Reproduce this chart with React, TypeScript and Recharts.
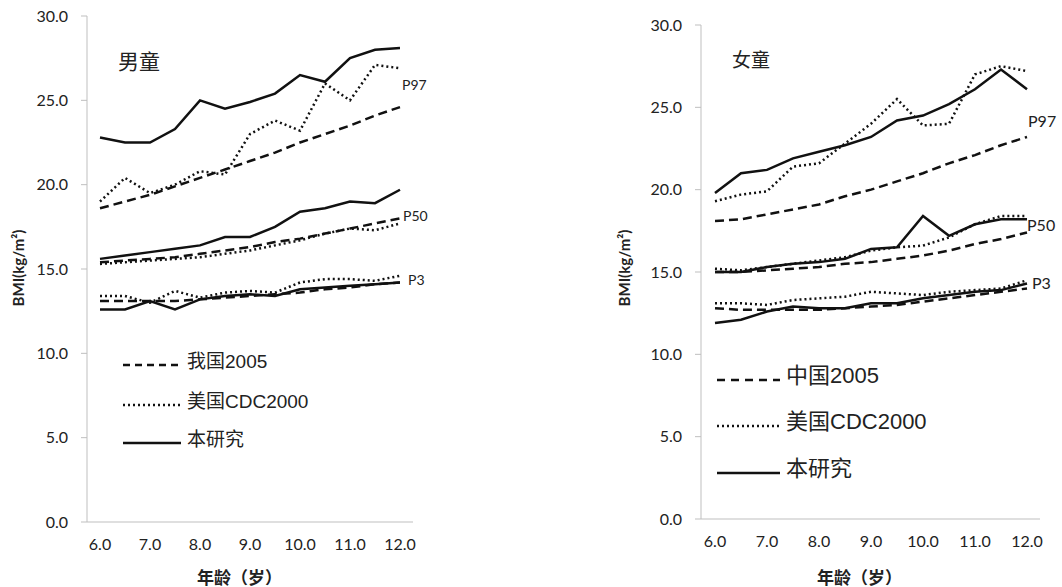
import { LineChart, Line, XAxis, YAxis } from 'recharts'

const AGES = ['6.0', '6.5', '7.0', '7.5', '8.0', '8.5', '9.0', '9.5', '10.0', '10.5', '11.0', '11.5', '12.0']
const Y_TICKS = [0, 5, 10, 15, 20, 25, 30]

// 男童
const BOYS_P97_CN = [18.6, 19.0, 19.4, 19.9, 20.4, 20.9, 21.4, 21.9, 22.5, 23.0, 23.5, 24.1, 24.6]
const BOYS_P97_US = [19.0, 20.4, 19.5, 20.0, 20.8, 20.6, 23.0, 23.8, 23.2, 26.0, 25.0, 27.1, 26.9]
const BOYS_P97_STUDY = [22.8, 22.5, 22.5, 23.3, 25.0, 24.5, 24.9, 25.4, 26.5, 26.1, 27.5, 28.0, 28.1]
const BOYS_P50_CN = [15.4, 15.5, 15.6, 15.7, 15.9, 16.1, 16.3, 16.6, 16.8, 17.1, 17.4, 17.7, 18.0]
const BOYS_P50_US = [15.3, 15.4, 15.5, 15.6, 15.7, 15.9, 16.1, 16.4, 16.7, 17.1, 17.4, 17.3, 17.7]
const BOYS_P50_STUDY = [15.6, 15.8, 16.0, 16.2, 16.4, 16.9, 16.9, 17.5, 18.4, 18.6, 19.0, 18.9, 19.7]
const BOYS_P3_CN = [13.1, 13.1, 13.1, 13.1, 13.2, 13.3, 13.4, 13.5, 13.6, 13.8, 13.9, 14.1, 14.2]
const BOYS_P3_US = [13.4, 13.4, 13.0, 13.7, 13.3, 13.6, 13.7, 13.6, 14.2, 14.4, 14.4, 14.3, 14.6]
const BOYS_P3_STUDY = [12.6, 12.6, 13.1, 12.6, 13.2, 13.4, 13.5, 13.4, 13.8, 13.9, 14.0, 14.1, 14.2]

// 女童
const GIRLS_P97_CN = [18.1, 18.2, 18.5, 18.8, 19.1, 19.6, 20.0, 20.5, 21.0, 21.6, 22.1, 22.7, 23.2]
const GIRLS_P97_US = [19.3, 19.7, 19.9, 21.4, 21.6, 22.8, 24.0, 25.5, 23.9, 24.0, 27.0, 27.5, 27.2]
const GIRLS_P97_STUDY = [19.8, 21.0, 21.2, 21.9, 22.3, 22.7, 23.2, 24.2, 24.5, 25.2, 26.1, 27.3, 26.1]
const GIRLS_P50_CN = [15.0, 15.0, 15.1, 15.2, 15.3, 15.5, 15.6, 15.8, 16.0, 16.3, 16.7, 17.0, 17.4]
const GIRLS_P50_US = [15.2, 15.1, 15.3, 15.5, 15.7, 15.9, 16.3, 16.5, 16.6, 17.1, 17.9, 18.4, 18.4]
const GIRLS_P50_STUDY = [15.0, 15.0, 15.3, 15.5, 15.6, 15.8, 16.4, 16.5, 18.4, 17.2, 17.9, 18.2, 18.2]
const GIRLS_P3_CN = [12.8, 12.7, 12.7, 12.7, 12.7, 12.8, 12.9, 13.0, 13.2, 13.4, 13.6, 13.8, 14.0]
const GIRLS_P3_US = [13.1, 13.1, 13.0, 13.3, 13.4, 13.5, 13.8, 13.7, 13.6, 13.8, 13.9, 14.0, 14.5]
const GIRLS_P3_STUDY = [11.9, 12.1, 12.6, 12.9, 12.8, 12.8, 13.1, 13.1, 13.4, 13.6, 13.8, 13.9, 14.3]

const DASH = '9 5'
const DOT = '2 3'
const NUM_FONT = 'Lato, "Open Sans", sans-serif'
const CJK_FONT = '"Liberation Sans", "Noto Sans CJK SC", sans-serif'

const SERIES = [
  { key: 'p97cn', dash: DASH },
  { key: 'p97us', dash: DOT },
  { key: 'p97st', dash: undefined },
  { key: 'p50cn', dash: DASH },
  { key: 'p50us', dash: DOT },
  { key: 'p50st', dash: undefined },
  { key: 'p3cn', dash: DASH },
  { key: 'p3us', dash: DOT },
  { key: 'p3st', dash: undefined },
]

function buildRows(cols: number[][]) {
  return AGES.map((age, i) => {
    const row: Record<string, number | string> = { age }
    SERIES.forEach((s, j) => {
      row[s.key] = cols[j][i]
    })
    return row
  })
}

const boysRows = buildRows([
  BOYS_P97_CN, BOYS_P97_US, BOYS_P97_STUDY,
  BOYS_P50_CN, BOYS_P50_US, BOYS_P50_STUDY,
  BOYS_P3_CN, BOYS_P3_US, BOYS_P3_STUDY,
])
const girlsRows = buildRows([
  GIRLS_P97_CN, GIRLS_P97_US, GIRLS_P97_STUDY,
  GIRLS_P50_CN, GIRLS_P50_US, GIRLS_P50_STUDY,
  GIRLS_P3_CN, GIRLS_P3_US, GIRLS_P3_STUDY,
])

interface PanelProps {
  rows: Record<string, number | string>[]
  left: number
  width: number
  top: number
  axisW: number
  xAxisH: number
  right: number
  pad: { left: number; right: number }
}

function Panel({ rows, left, width, top, axisW, xAxisH, right, pad }: PanelProps) {
  return (
    <div style={{ position: 'absolute', left, top: 0 }}>
      <LineChart width={width} height={587} data={rows} margin={{ top, right, left: 0, bottom: 0 }}>
        <XAxis
          dataKey="age"
          interval={1}
          padding={pad}
          height={xAxisH}
          stroke="#bfbfbf"
          tickLine={false}
          tickSize={0}
          tickMargin={17}
          tick={{ fill: '#222', fontSize: 16, fontFamily: NUM_FONT }}
        />
        <YAxis
          domain={[0, 30]}
          ticks={Y_TICKS}
          width={axisW}
          stroke="#bfbfbf"
          tickSize={6}
          tickMargin={13}
          tickFormatter={(v: number) => v.toFixed(1)}
          tick={{ fill: '#222', fontSize: 16, fontFamily: NUM_FONT }}
        />
        {SERIES.map((s) => (
          <Line
            key={s.key}
            dataKey={s.key}
            type="linear"
            stroke="#111"
            strokeWidth={2.5}
            strokeDasharray={s.dash}
            dot={false}
            activeDot={false}
            isAnimationActive={false}
          />
        ))}
      </LineChart>
    </div>
  )
}

function Txt({ x, y, children, size, bold, font, rotate }: {
  x: number; y: number; children: React.ReactNode; size: number; bold?: boolean; font?: string; rotate?: boolean
}) {
  return (
    <div
      style={{
        position: 'absolute',
        left: x,
        top: y,
        fontSize: size,
        fontWeight: bold ? 700 : 400,
        fontFamily: font ?? CJK_FONT,
        color: '#222',
        whiteSpace: 'nowrap',
        lineHeight: 1,
        transform: rotate ? 'translate(-50%, -50%) rotate(-90deg)' : 'translate(0, -50%)',
      }}
    >
      {children}
    </div>
  )
}

function LegendItem({ x, y, dash, label, size, lineW }: {
  x: number; y: number; dash?: string; label: string; size: number; lineW: number
}) {
  return (
    <>
      <svg style={{ position: 'absolute', left: x, top: y - 4 }} width={lineW} height={8}>
        <line x1={0} y1={4} x2={lineW} y2={4} stroke="#111" strokeWidth={2.5} strokeDasharray={dash} />
      </svg>
      <Txt x={x + lineW + 6} y={y - 4} size={size}>{label}</Txt>
    </>
  )
}

export default function App() {
  return (
    <div style={{ position: 'absolute', left: 0, top: 0, width: 1062, height: 587, background: '#fff', overflow: 'hidden' }}>
      <Panel rows={boysRows} left={0} width={430} top={16} axisW={87} xAxisH={65} right={17} pad={{ left: 13, right: 13 }} />
      <Panel rows={girlsRows} left={600} width={462} top={25} axisW={101} xAxisH={68} right={22} pad={{ left: 14, right: 13 }} />

      <Txt x={18} y={268} size={15} bold font={NUM_FONT} rotate>BMI(kg/m²)</Txt>
      <Txt x={624} y={268} size={15} bold font={NUM_FONT} rotate>BMI(kg/m²)</Txt>
      <Txt x={197} y={578} size={17} bold>年龄（岁）</Txt>
      <Txt x={817} y={578} size={17} bold>年龄（岁）</Txt>

      <Txt x={118} y={61} size={21}>男童</Txt>
      <Txt x={732} y={60} size={19}>女童</Txt>

      <Txt x={402} y={85} size={14} font={NUM_FONT}>P97</Txt>
      <Txt x={403} y={216} size={14} font={NUM_FONT}>P50</Txt>
      <Txt x={408} y={280} size={14} font={NUM_FONT}>P3</Txt>
      <Txt x={1028} y={121} size={16} font={NUM_FONT}>P97</Txt>
      <Txt x={1027} y={225} size={16} font={NUM_FONT}>P50</Txt>
      <Txt x={1032} y={283} size={16} font={NUM_FONT}>P3</Txt>

      <LegendItem x={123} y={365} dash="7 5" label="我国2005" size={19} lineW={58} />
      <LegendItem x={123} y={405} dash="2 3" label="美国CDC2000" size={19} lineW={58} />
      <LegendItem x={123} y={443} label="本研究" size={19} lineW={58} />
      <LegendItem x={717} y={380} dash="8 6" label="中国2005" size={22} lineW={63} />
      <LegendItem x={717} y={426} dash="2 3" label="美国CDC2000" size={22} lineW={63} />
      <LegendItem x={717} y={473} label="本研究" size={22} lineW={63} />
    </div>
  )
}
